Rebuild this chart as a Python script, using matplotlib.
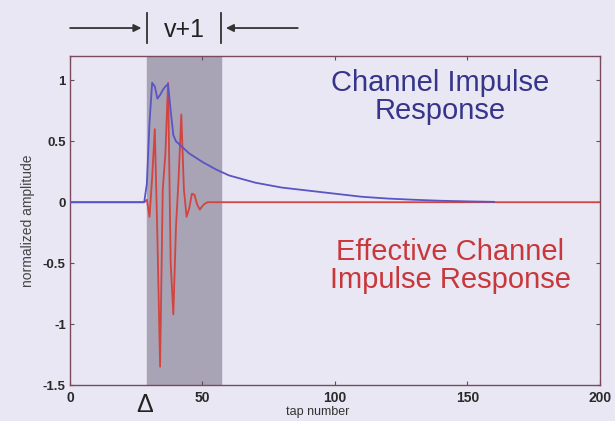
import matplotlib
matplotlib.use("Agg")
import matplotlib.pyplot as plt
import numpy as np

plt.rcParams['font.family'] = ['Liberation Sans', 'DejaVu Sans']

# Channel impulse response (blue): tap -> amplitude
chan_taps = [0, 20, 28, 29, 30, 31, 32, 33, 34, 35, 36, 37, 38, 39, 40, 42, 45, 50, 55, 60,
             65, 70, 80, 90, 100, 110, 120, 130, 140, 150, 160]
chan_vals = [0, 0, 0.0, 0.15, 0.65, 0.98, 0.95, 0.85, 0.88, 0.92, 0.95, 0.97, 0.75, 0.55, 0.50,
             0.46, 0.40, 0.33, 0.27, 0.22, 0.19, 0.16, 0.12, 0.095, 0.07, 0.045, 0.03, 0.02,
             0.012, 0.007, 0.003]

# Effective (shortened) channel impulse response (red)
eff_taps = [0, 28, 29, 30, 31, 32, 33, 34, 35, 36, 37, 38, 39, 40, 41, 42, 43, 44, 45, 46,
            47, 48, 49, 50, 51, 52, 53, 200]
eff_vals = [0, 0, 0.02, -0.12, 0.2, 0.6, -0.3, -1.35, 0.1, 0.4, 0.98, -0.5, -0.92, -0.2,
            0.2, 0.72, 0.1, -0.12, -0.05, 0.07, 0.06, -0.02, -0.06, -0.03, -0.01, 0.0, 0.0, 0.0]

window = (29, 57)          # shortened window, v+1 taps
delay_label_tap = 28       # Delta
xticks = [0, 50, 100, 150, 200]
yticks = [-1.5, -1, -0.5, 0, 0.5, 1]
ytick_labels = ['-1.5', '-1', '-0.5', '0', '0.5', '1']

bg = '#e9e7f3'
fig = plt.figure(figsize=(6.15, 4.21), dpi=100, facecolor=bg)
ax = fig.add_axes([0.1138, 0.0855, 0.8618, 0.7815])
ax.set_facecolor(bg)

ax.axvspan(window[0], window[1], color='#a9a3b6', zorder=0)
ax.plot(eff_taps, eff_vals, color='#d2443f', lw=1.3, zorder=2)
ax.plot(chan_taps, chan_vals, color='#5a55c4', lw=1.3, zorder=3)

ax.set_xlim(0, 200)
ax.set_ylim(-1.5, 1.2)
ax.set_xticks(xticks)
ax.set_xticklabels([str(t) for t in xticks])
ax.set_yticks(yticks)
ax.set_yticklabels(ytick_labels)
ax.tick_params(direction='in', length=3, colors='#6a4a5a', labelcolor='#2a2a2a',
               top=True, right=True)
ax.tick_params(axis='x', labelsize=10, pad=4)
ax.tick_params(axis='y', labelsize=9.5, pad=3)
for lab in ax.get_xticklabels() + ax.get_yticklabels():
    lab.set_fontweight('bold')
for s in ax.spines.values():
    s.set_color('#7a4a5a')
    s.set_linewidth(1.0)

ax.set_xlabel('tap number', fontsize=9, color='#333333')
ax.xaxis.set_label_coords((318 - 70) / 530, -0.064)
ax.set_ylabel('normalized amplitude', fontsize=10, color='#444444', labelpad=6)

ax.text(0.698, 0.875, 'Channel Impulse\nResponse', transform=ax.transAxes, color='#36358a',
        fontsize=21, ha='center', va='center', linespacing=0.98)
ax.text(0.717, 0.362, 'Effective Channel\nImpulse Response', transform=ax.transAxes,
        color='#c8373a', fontsize=21, ha='center', va='center', linespacing=0.98)

# v+1 annotation above the axes
tr = ('data', 'axes fraction')
ax.annotate('', xy=(window[0] - 1.0, 1.085), xytext=(-1, 1.085), xycoords=tr,
            textcoords=tr, annotation_clip=False,
            arrowprops=dict(arrowstyle='-|>', color='#333333', lw=1.3, mutation_scale=11))
ax.annotate('', xy=(window[1] + 0.8, 1.085), xytext=(87, 1.085), xycoords=tr,
            textcoords=tr, annotation_clip=False,
            arrowprops=dict(arrowstyle='-|>', color='#333333', lw=1.3, mutation_scale=11))
for xv in window:
    ax.plot([xv, xv], [1.04, 1.13], transform=ax.get_xaxis_transform(), color='#333333',
            lw=1.3, clip_on=False)
ax.text(sum(window) / 2, 1.08, 'v+1', transform=ax.get_xaxis_transform(), ha='center',
        va='center', fontsize=18, color='#222222')

ax.text(delay_label_tap, -0.06, 'Δ', transform=ax.get_xaxis_transform(), ha='center',
        va='center', fontsize=18, color='#222222')

fig.savefig('out.png', dpi=100, facecolor=bg)
